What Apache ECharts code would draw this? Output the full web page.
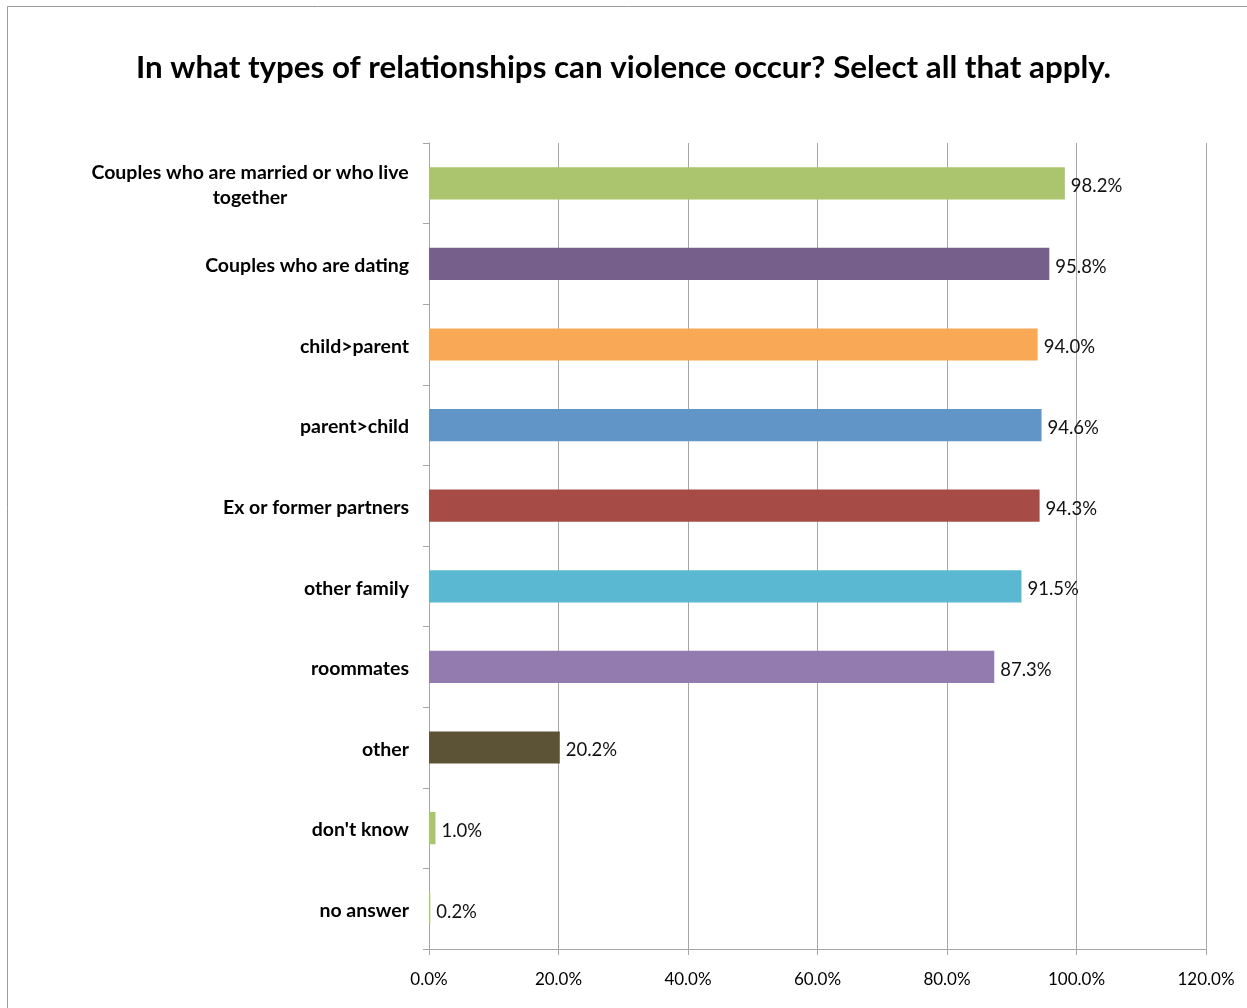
<!DOCTYPE html>
<html>
<head>
<meta charset="utf-8">
<title>Relationship violence survey</title>
<script src="https://cdn.jsdelivr.net/npm/echarts@6/dist/echarts.min.js"></script>
<style>
  html, body { margin: 0; padding: 0; background: #ffffff; }
  #chart { width: 1247px; height: 1008px; }
</style>
</head>
<body>
<div id="chart"></div>
<script>
// Survey answers, top to bottom
const categories = [
  'Couples who are married or who live\ntogether',
  'Couples who are dating',
  'child>parent',
  'parent>child',
  'Ex or former partners',
  'other family',
  'roommates',
  'other',
  "don't know",
  'no answer'
];
// Share of respondents (%)
const values = [98.2, 95.8, 94.0, 94.6, 94.3, 91.5, 87.3, 20.2, 1.0, 0.2];
const barColors = [
  '#abc46e', '#775f8b', '#f9a855', '#6195c8', '#a64b45',
  '#5bb8d2', '#937bb0', '#5c5337', '#a9c66c', '#a9c66c'
];
// Value-axis ticks (%)
const axisMin = 0;
const axisMax = 120;
const axisStep = 20;

const FONT = 'Lato, "Open Sans", sans-serif';

const chart = echarts.init(document.getElementById('chart'), null, { renderer: 'canvas' });

chart.setOption({
  backgroundColor: '#ffffff',
  animation: false,
  title: {
    text: 'In what types of relationships can violence occur? Select all that apply.',
    left: 'center',
    top: 47,
    textStyle: { fontFamily: FONT, fontWeight: 'bold', fontSize: 31.3, color: '#000000' }
  },
  graphic: [{
    type: 'rect',
    shape: { x: 7.5, y: 6.5, width: 1260, height: 1020 },
    style: { fill: null, stroke: '#9a9a9a', lineWidth: 1 },
    silent: true
  }],
  grid: { left: 429, right: 41, top: 143, bottom: 59, containLabel: false },
  xAxis: {
    type: 'value',
    min: axisMin,
    max: axisMax,
    interval: axisStep,
    axisLine: { show: true, lineStyle: { color: '#a6a6a6', width: 1 } },
    axisTick: { show: true, inside: false, length: 6, lineStyle: { color: '#a6a6a6' } },
    splitLine: { show: true, lineStyle: { color: '#a6a6a6', width: 1 } },
    axisLabel: {
      margin: 22,
      fontFamily: FONT,
      fontSize: 17,
      color: '#000000',
      formatter: v => v.toFixed(1) + '%'
    }
  },
  yAxis: {
    type: 'category',
    inverse: true,
    data: categories,
    axisLine: { show: true, lineStyle: { color: '#a6a6a6', width: 1 } },
    axisTick: { show: true, length: 6, alignWithLabel: false, lineStyle: { color: '#a6a6a6' } },
    splitLine: { show: false },
    axisLabel: {
      margin: 20,
      fontFamily: FONT,
      fontWeight: 'bold',
      fontSize: 19.5,
      lineHeight: 25,
      color: '#000000',
      padding: [4, 0, 0, 0],
      formatter: function (v) {
        if (v.indexOf('\n') < 0) return v;
        return v.split('\n').map(s => '{c|' + s + '}').join('\n');
      },
      rich: {
        c: {
          width: 318,
          align: 'center',
          fontFamily: FONT,
          fontWeight: 'bold',
          fontSize: 19.5,
          lineHeight: 25,
          color: '#000000'
        }
      }
    }
  },
  series: [{
    type: 'bar',
    barCategoryGap: '60%',
    data: values.map((v, i) => ({ value: v, itemStyle: { color: barColors[i] } })),
    label: {
      show: true,
      position: 'right',
      distance: 6,
      offset: [0, 3],
      fontFamily: FONT,
      fontSize: 18.5,
      color: '#111111',
      formatter: p => p.value.toFixed(1) + '%'
    }
  }]
});
</script>
</body>
</html>
